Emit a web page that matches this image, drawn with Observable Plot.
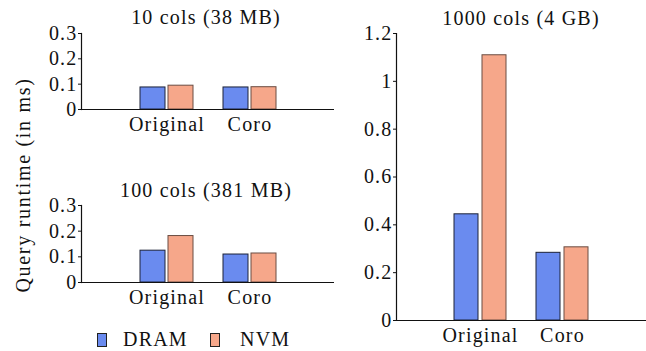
<!DOCTYPE html>
<html>
<head>
<meta charset="utf-8">
<script src="https://cdn.jsdelivr.net/npm/d3@7"></script>
<script src="https://cdn.jsdelivr.net/npm/@observablehq/plot@0.6"></script>
<style>
  html, body { margin: 0; padding: 0; background: #fff; }
  #root { position: relative; width: 646px; height: 351px; font-family: "Liberation Serif", serif; color: #111; overflow: hidden; letter-spacing: 1.2px; }
  .abs { position: absolute; white-space: nowrap; font-size: 20px; line-height: 20px; }
  .title { transform: translateX(-50%); }
  #ylabel { left: 23px; top: 185px; letter-spacing: 1.7px; transform: translate(-50%, -50%) rotate(-90deg); }
  .sw { position: absolute; width: 8px; height: 12px; border: 1px solid #222; }
</style>
</head>
<body>
<div id="root"></div>
<script>
// ---- data ----
const groups = ["Original", "Coro"];
const series = ["DRAM", "NVM"];
const dram10 = [0.087, 0.087];
const nvm10 = [0.094, 0.088];
const dram100 = [0.124, 0.109];
const nvm100 = [0.181, 0.113];
const dram1000 = [0.444, 0.283];
const nvm1000 = [1.109, 0.306];
const ticksSmall = [0, 0.1, 0.2, 0.3];
const ticksLarge = [0, 0.2, 0.4, 0.6, 0.8, 1, 1.2];
const titles = ["10 cols (38 MB)", "100 cols (381 MB)", "1000 cols (4 GB)"];
const yLabel = "Query runtime (in ms)";

const colors = {DRAM: "#6A8BEF", NVM: "#F6A78A"};
const strokes = {DRAM: "#1c2238", NVM: "#6a4c42"};

function rows(dram, nvm) {
  return groups.flatMap((g, i) => [
    {group: g, series: "DRAM", value: dram[i]},
    {group: g, series: "NVM", value: nvm[i]}
  ]);
}

function panel({data, ticks, yMax, width, height, marginLeft}) {
  const fmt = d3.format("~g");
  return Plot.plot({
    width, height,
    marginLeft, marginRight: 0, marginTop: 8, marginBottom: 30,
    style: {fontFamily: "'Liberation Serif', serif", fontSize: "20px", letterSpacing: "1.2px", color: "#111", background: "transparent", overflow: "visible"},
    x: {domain: groups, paddingInner: 0, paddingOuter: 0.51, label: null},
    y: {domain: [0, yMax], label: null},
    marks: [
      Plot.barY(data.filter(d => d.series === "DRAM"), {x: "group", y: "value", fill: colors.DRAM, stroke: strokes.DRAM, strokeWidth: 1, insetLeft: 15, insetRight: 43}),
      Plot.barY(data.filter(d => d.series === "NVM"), {x: "group", y: "value", fill: colors.NVM, stroke: strokes.NVM, strokeWidth: 1, insetLeft: 43, insetRight: 15}),
      Plot.ruleY([0], {stroke: "#111", strokeWidth: 1.2}),
      Plot.frame({anchor: "left", stroke: "#111", strokeWidth: 1.2}),
      Plot.axisY({ticks, tickFormat: fmt, tickSize: 3, tickPadding: 1, fontSize: 20}),
      Plot.axisX({tickSize: 0, tickPadding: 7, fontSize: 20, label: null})
    ]
  });
}

const root = document.getElementById("root");
function place(el, left, top) {
  el.style.position = "absolute";
  el.style.left = left + "px";
  el.style.top = top + "px";
  root.appendChild(el);
  return el;
}

place(panel({data: rows(dram10, nvm10), ticks: ticksSmall, yMax: 0.3, width: 334, height: 114, marginLeft: 81}), 0, 25);
place(panel({data: rows(dram100, nvm100), ticks: ticksSmall, yMax: 0.3, width: 334, height: 115, marginLeft: 81}), 0, 197);
place(panel({data: rows(dram1000, nvm1000), ticks: ticksLarge, yMax: 1.2, width: 326, height: 325, marginLeft: 76}), 320, 25);

function addText(text, left, top, cls) {
  const t = document.createElement("div");
  t.className = "abs " + (cls || "");
  t.textContent = text;
  return place(t, left, top);
}
addText(titles[0], 206, 7, "title");
addText(titles[1], 206, 180, "title");
addText(titles[2], 521, 8, "title");

const yl = addText(yLabel, 23, 185);
yl.id = "ylabel";

// legend
const legendPos = [{sw: 97, tx: 123}, {sw: 210, tx: 240}];
series.forEach((s, i) => {
  const sw = document.createElement("div");
  sw.className = "sw";
  sw.style.background = colors[s];
  place(sw, legendPos[i].sw, 333);
  addText(s, legendPos[i].tx, 329);
});
</script>
</body>
</html>
